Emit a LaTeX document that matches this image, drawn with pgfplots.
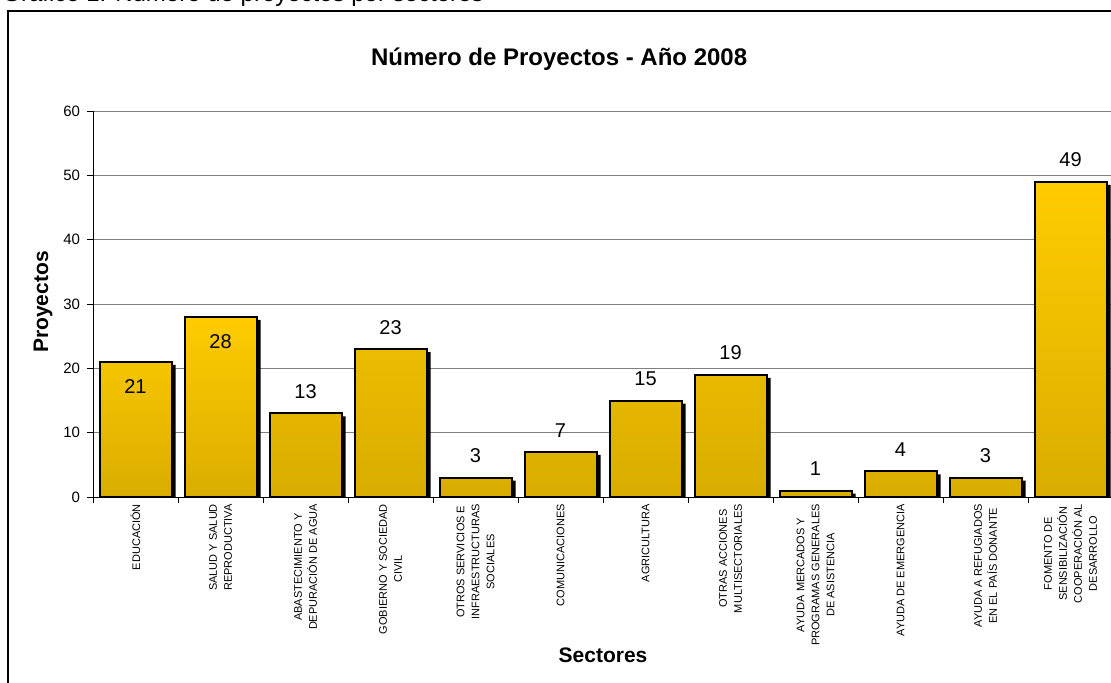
\documentclass[border=0pt]{standalone}
\usepackage{fontspec}
\setmainfont{Liberation Sans}
\usepackage{pgfplots}
\pgfplotsset{compat=1.18}
\definecolor{bartop}{RGB}{255,204,0}
\definecolor{barbot}{RGB}{217,173,0}
\definecolor{gridgray}{RGB}{128,128,128}

\begin{document}
\begin{tikzpicture}[x=1pt,y=1pt]
% caption line of the page, mostly cut off
\node[anchor=base west, inner sep=0, font=\fontsize{12}{14}\selectfont] at (1,340) {Gráfico 1: Número de proyectos por sectores};
\draw[line width=0.6pt] (4,-10) rectangle (600,335.5);
\begin{axis}[
  at={(46.5pt,92.5pt)}, anchor=south west,
  scale only axis, width=510pt, height=193pt,
  xmin=0.5, xmax=12.5, ymin=0, ymax=60,
  enlargelimits=false,
  axis x line*=bottom, axis y line*=left,
  axis line style={black, line width=0.5pt},
  tick align=outside, major tick length=3pt,
  tick style={black, line width=0.5pt},
  ytick={0,10,...,60},
  xtick={0.5,1.5,...,12.5}, xticklabels={},
  extra x ticks={1,...,12},
  extra x tick labels={
    EDUCACIÓN,
    {SALUD Y SALUD\\REPRODUCTIVA},
    {ABASTECIMIENTO Y\\DEPURACIÓN DE AGUA},
    {GOBIERNO Y SOCIEDAD\\CIVIL},
    {OTROS SERVICIOS E\\INFRAESTRUCTURAS\\SOCIALES},
    COMUNICACIONES,
    AGRICULTURA,
    {OTRAS ACCIONES\\MULTISECTORIALES},
    {AYUDA MERCADOS Y\\PROGRAMAS GENERALES\\DE ASISTENCIA},
    {AYUDA DE EMERGENCIA},
    {AYUDA A REFUGIADOS\\EN EL PAÍS DONANTE},
    {FOMENTO DE\\SENSIBILIZACIÓN\\COOPERACIÓN AL\\DESARROLLO}},
  extra x tick style={major tick length=0pt, tick style={draw=none},
    xticklabel style={rotate=90, anchor=east, align=center,
      font=\fontsize{5.5}{7.5}\selectfont}},
  ymajorgrids=true,
  grid style={gridgray, line width=0.5pt},
  yticklabel style={font=\fontsize{7.5}{9}\selectfont},
  /pgf/number format/assume math mode=true,
  title={Número de Proyectos - Año 2008},
  title style={font=\bfseries\fontsize{12}{14}\selectfont,
    at={(axis description cs:0.457,1.104)}, anchor=center},
  xlabel={Sectores},
  xlabel style={font=\bfseries\fontsize{10.5}{12}\selectfont,
    at={(axis description cs:0.5,-0.409)}, anchor=center},
  ylabel={Proyectos},
  ylabel style={font=\bfseries\fontsize{10.5}{12}\selectfont,
    at={(axis description cs:-0.049,0.505)}, anchor=center},
]
% shadow
\addplot[ybar, bar width=36pt, bar shift=0pt, fill=black, draw=none,
  xshift=2pt, yshift=-1.5pt, forget plot]
  coordinates {(1,21) (2,28) (3,13) (4,23) (5,3) (6,7) (7,15) (8,19) (9,1) (10,4) (11,3) (12,49)};
% bars with labels above
\addplot[ybar, bar width=36pt, bar shift=0pt, draw=black, line width=1pt,
  top color=bartop, bottom color=barbot,
  nodes near coords,
  nodes near coords style={font=\fontsize{10}{12}\selectfont, yshift=3.5pt}]
  coordinates {(3,13) (4,23) (5,3) (6,7) (7,15) (8,19) (9,1) (10,4) (11,3) (12,49)};
% bars with labels inside
\addplot[ybar, bar width=36pt, bar shift=0pt, draw=black, line width=1pt,
  top color=bartop, bottom color=barbot,
  nodes near coords,
  nodes near coords style={font=\fontsize{10}{12}\selectfont, anchor=north, yshift=-5pt}]
  coordinates {(1,21) (2,28)};
\end{axis}
\pgfresetboundingbox
\path[use as bounding box] (0,0) rectangle (555.5,341);
\end{tikzpicture}
\end{document}
